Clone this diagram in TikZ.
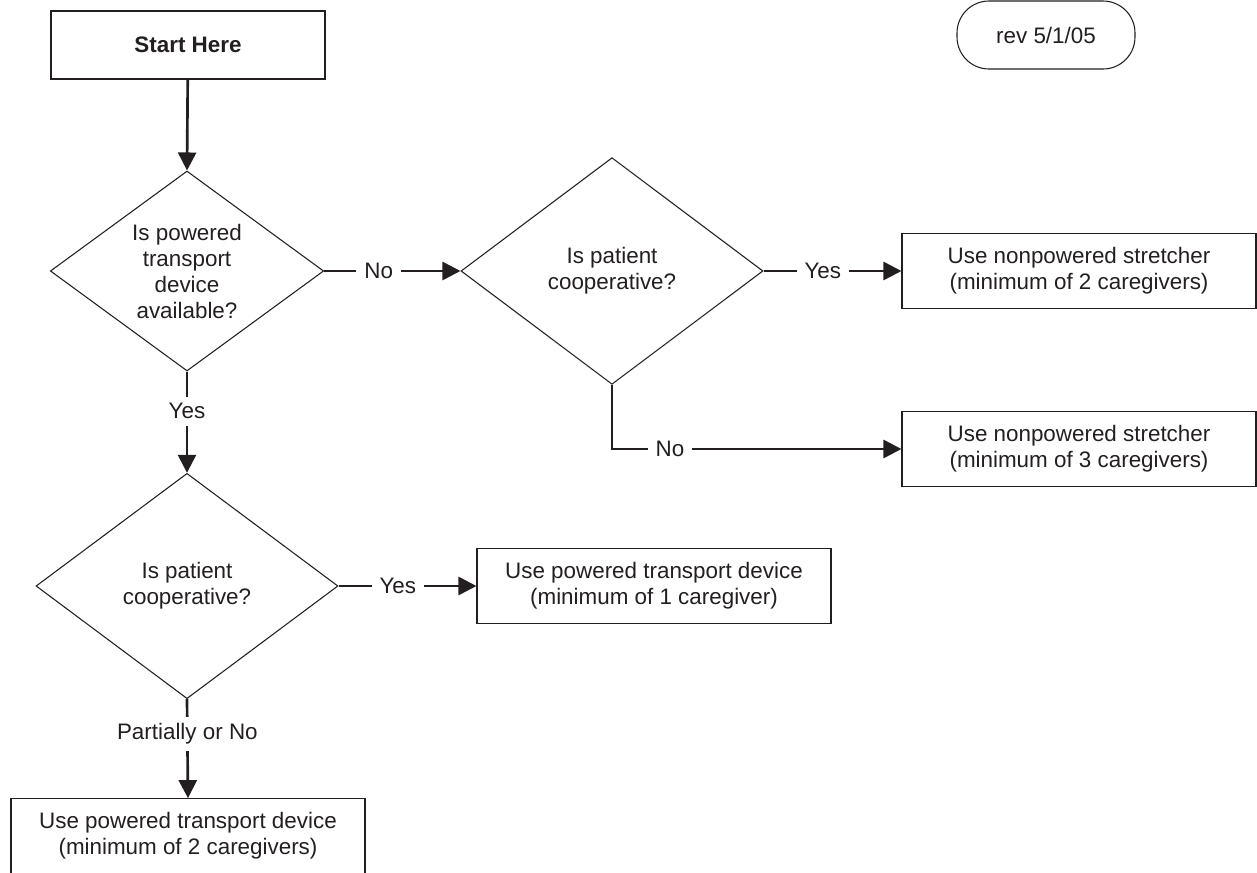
\documentclass[tikz,border=0pt]{standalone}
\usepackage{fontspec}
\setmainfont{Liberation Sans}
\usetikzlibrary{arrows.meta,shapes.geometric}
\definecolor{ink}{RGB}{35,31,32}
\tikzset{
	box/.style={draw=ink, line width=0.8pt, minimum width=265.5pt, minimum height=56pt, align=center, inner sep=0pt, text=ink},
	decision/.style={diamond, draw=ink, line width=0.8pt, align=center, inner sep=0pt, aspect=1.2, text=ink},
	flow/.style={draw=ink, line width=2pt, -{Triangle[length=13.5pt,width=13.5pt]}},
	lbl/.style={fill=white, inner xsep=6pt, inner ysep=5pt, text=ink}
}
\begin{document}
\begin{tikzpicture}[x=0.75pt, y=-0.75pt, font=\fontsize{16.8pt}{19.5pt}\selectfont]
		\useasboundingbox (0, 0) rectangle (1257, 872);
		\node[box, minimum width=205.5pt, minimum height=51pt, font=\fontsize{16.8pt}{19.5pt}\selectfont\bfseries] (start) at (188, 45) {Start Here};
		\node[draw=ink, line width=0.8pt, rounded corners=24pt, minimum width=133.5pt, minimum height=51pt, inner sep=0pt, text=ink] (rev) at (1046, 35) {rev 5/1/05};
		\node[decision, minimum width=205pt, minimum height=150pt] (powered) at (187, 271) {Is powered\\transport\\device\\available?};
		\node[decision, minimum width=226.5pt, minimum height=170pt] (coopA) at (612, 271) {Is patient\\cooperative?};
		\node[decision, minimum width=226.5pt, minimum height=169pt] (coopB) at (187, 586) {Is patient\\cooperative?};
		\node[box] (stretchTwo) at (1079, 271) {Use nonpowered stretcher\\(minimum of 2 caregivers)};
		\node[box] (stretchThree) at (1079, 449) {Use nonpowered stretcher\\(minimum of 3 caregivers)};
		\node[box] (deviceOne) at (654, 586) {Use powered transport device\\(minimum of 1 caregiver)};
		\node[box] (deviceTwo) at (188, 836) {Use powered transport device\\(minimum of 2 caregivers)};
		\draw[flow] (start) -- (powered.north);
		\draw[flow] (powered.east) -- node[lbl, pos=0.4] {No} (coopA.west);
		\draw[flow] (coopA.east) -- node[lbl, pos=0.43] {Yes} (stretchTwo.west);
		\draw[flow] (coopA.south) |- node[lbl, pos=0.6] {No} (stretchThree.west);
		\draw[flow] (powered.south) -- node[lbl, pos=0.39] {Yes} (coopB.north);
		\draw[flow] (coopB.east) -- node[lbl, pos=0.43] {Yes} (deviceOne.west);
		\draw[flow] (coopB.south) -- node[lbl, pos=0.35] {Partially or No} (deviceTwo.north);
	\end{tikzpicture}
\end{document}
